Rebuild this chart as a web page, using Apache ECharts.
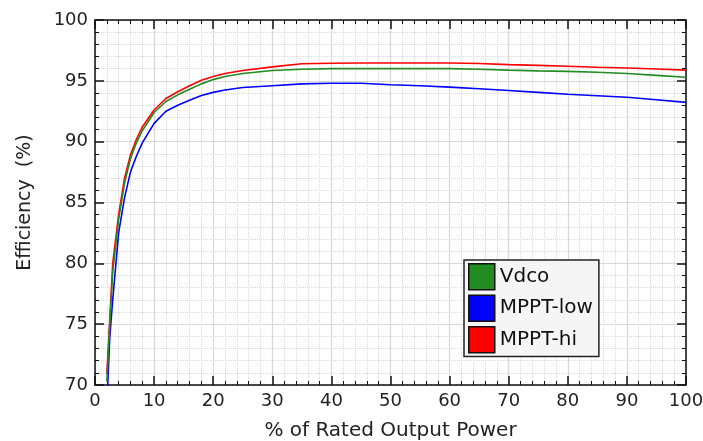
<!DOCTYPE html>
<html>
<head>
<meta charset="utf-8">
<script src="https://cdn.jsdelivr.net/npm/echarts@6/dist/echarts.min.js"></script>
<style>
  html, body { margin: 0; padding: 0; background: #fff; }
  #chart { width: 703px; height: 441px; }
</style>
</head>
<body>
<div id="chart"></div>
<script>
// % of rated output power
const power = [2, 2.5, 3, 4, 5, 6, 7, 8, 10, 12, 14, 16, 18, 20, 22, 25, 30, 35, 40, 45, 50, 55, 60, 65, 70, 75, 80, 85, 90, 95, 100];

// efficiency (%)
const vdco = [70.3, 75.0, 79.3, 83.6, 86.6, 88.6, 89.9, 90.9, 92.4, 93.3, 93.85, 94.3, 94.75, 95.1, 95.35, 95.6, 95.85, 95.95, 96.0, 96.0, 96.0, 96.0, 96.0, 95.95, 95.88, 95.82, 95.78, 95.7, 95.6, 95.45, 95.3];
const mpptLow = [68.3, 73.9, 77.0, 82.5, 85.4, 87.5, 88.8, 89.9, 91.5, 92.5, 93.0, 93.4, 93.8, 94.05, 94.25, 94.45, 94.6, 94.75, 94.8, 94.8, 94.68, 94.6, 94.48, 94.35, 94.2, 94.05, 93.9, 93.78, 93.65, 93.45, 93.23];
const mpptHi = [70.9, 75.4, 80.0, 84.0, 87.0, 88.9, 90.2, 91.2, 92.6, 93.55, 94.1, 94.6, 95.05, 95.35, 95.6, 95.85, 96.15, 96.4, 96.45, 96.46, 96.46, 96.46, 96.46, 96.43, 96.33, 96.27, 96.2, 96.12, 96.05, 95.97, 95.88];

const names = ['Vdco', 'MPPT-low', 'MPPT-hi'];
const colors = ['#228b22', '#0000ff', '#ff0000'];
const xTicks = [0, 10, 20, 30, 40, 50, 60, 70, 80, 90, 100];
const yTicks = [70, 75, 80, 85, 90, 95, 100];

const font = 'DejaVu Sans';
const chart = echarts.init(document.getElementById('chart'));

const pairs = ys => power.map((x, i) => [x, ys[i]]);

function axisBase(extra) {
    return Object.assign({
        type: 'value',
        axisLine: { show: true, onZero: false, lineStyle: { color: '#111', width: 1.5 } },
        axisTick: { show: true, inside: true, length: 9, lineStyle: { color: '#111', width: 1.5 } },
        minorTick: { show: true, splitNumber: 5, length: 4, lineStyle: { color: '#111', width: 1 } }
    }, extra);
}

const xMain = axisBase({
    position: 'bottom',
    min: xTicks[0], max: xTicks[xTicks.length - 1], interval: 10,
    name: '% of Rated Output Power',
    nameLocation: 'middle',
    nameGap: 36,
    nameTextStyle: { fontFamily: font, fontSize: 20, color: '#222' },
    axisLabel: { fontFamily: font, fontSize: 18, color: '#222', margin: 7 },
    splitLine: { show: true, lineStyle: { color: '#d8d8d8', width: 1.2 } },
    minorSplitLine: { show: true, lineStyle: { color: '#dadada', type: 'dotted', width: 1 } }
});
const xTop = axisBase({
    position: 'top',
    min: xTicks[0], max: xTicks[xTicks.length - 1], interval: 10,
    axisLabel: { show: false },
    splitLine: { show: false }
});
const yMain = axisBase({
    position: 'left',
    min: yTicks[0], max: yTicks[yTicks.length - 1], interval: 5,
    name: 'Efficiency  (%)',
    nameLocation: 'middle',
    nameGap: 60,
    nameTextStyle: { fontFamily: font, fontSize: 19, color: '#222' },
    axisLabel: { fontFamily: font, fontSize: 18, color: '#222', margin: 7 },
    splitLine: { show: true, lineStyle: { color: '#d8d8d8', width: 1.2 } },
    minorSplitLine: { show: true, lineStyle: { color: '#dadada', type: 'dotted', width: 1 } }
});
const yRight = axisBase({
    position: 'right',
    min: yTicks[0], max: yTicks[yTicks.length - 1], interval: 5,
    axisLabel: { show: false },
    splitLine: { show: false }
});

const option = {
    animation: false,
    backgroundColor: '#fff',
    grid: { left: 95, right: 17, top: 20, bottom: 56, outerBoundsMode: 'none' },
    legend: {
        data: names,
        orient: 'vertical',
        left: 464,
        top: 260,
        icon: 'rect',
        itemWidth: 26,
        itemHeight: 26,
        itemGap: 4,
        padding: [3, 6, 3, 4],
        backgroundColor: '#f5f5f5',
        borderColor: '#222',
        borderWidth: 1.5,
        borderRadius: 0,
        itemStyle: { borderColor: '#111', borderWidth: 1.5 },
        textStyle: { fontFamily: font, fontSize: 20, color: '#111' }
    },
    xAxis: [xMain, xTop],
    yAxis: [yMain, yRight],
    series: [vdco, mpptLow, mpptHi].map((ys, i) => ({
        name: names[i],
        type: 'line',
        data: pairs(ys),
        showSymbol: false,
        smooth: false,
        color: colors[i],
        lineStyle: { width: 1.6, color: colors[i] },
        z: i === 0 ? 3 : 2
    }))
};
option && chart.setOption(option);
</script>
</body>
</html>
